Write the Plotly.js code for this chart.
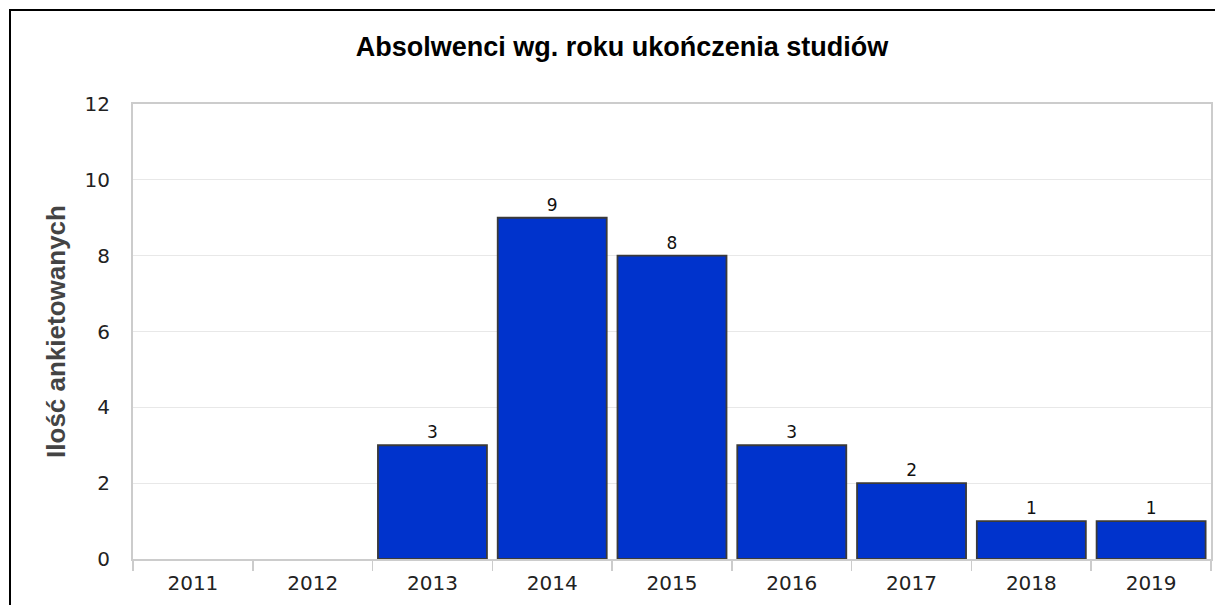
<!DOCTYPE html>
<html>
<head>
<meta charset="utf-8">
<script src="https://cdn.plot.ly/plotly-3.0.1.min.js"></script>
<style>
  html, body { margin: 0; padding: 0; background: #fff; }
  #chart { position: absolute; left: 0; top: 0; width: 1215px; height: 605px; }
  #frame { position: absolute; left: 9px; top: 9px; width: 1215px; height: 605px;
           border-left: 2px solid #000; border-top: 2px solid #000; pointer-events: none; }
</style>
</head>
<body>
<div id="chart"></div>
<div id="frame"></div>
<script>
const years = ['2011', '2012', '2013', '2014', '2015', '2016', '2017', '2018', '2019'];
const counts = [0, 0, 3, 9, 8, 3, 2, 1, 1];
const titleText = 'Absolwenci wg. roku ukończenia studiów';
const yTitleText = 'Ilość ankietowanych';

const trace = {
  type: 'bar',
  x: years,
  y: counts,
  text: counts.map(v => v > 0 ? String(v) : ''),
  textposition: 'outside',
  cliponaxis: false,
  textfont: { family: 'DejaVu Sans, sans-serif', size: 17, color: '#111' },
  marker: {
    color: '#0033cc',
    line: { color: '#3a3a3a', width: counts.map(v => v > 0 ? 1.8 : 0) }
  },
  hoverinfo: 'x+y'
};

const layout = {
  width: 1215,
  height: 605,
  margin: { l: 133, r: 4, t: 104, b: 46 },
  paper_bgcolor: 'rgba(0,0,0,0)',
  plot_bgcolor: '#fff',
  bargap: 0.09,
  showlegend: false,
  title: {
    text: '<b>' + titleText + '</b>',
    x: 622 / 1215, xref: 'container', xanchor: 'center',
    y: 1 - 47 / 605, yref: 'container', yanchor: 'middle',
    font: { family: 'Liberation Sans, Arial, sans-serif', size: 27, color: '#000' }
  },
  xaxis: {
    type: 'category',
    tickson: 'boundaries',
    ticks: 'outside',
    ticklen: 10,
    tickwidth: 1.5,
    tickcolor: '#ccc',
    ticklabelstandoff: 5,
    showline: true,
    linecolor: '#ccc',
    linewidth: 2,
    mirror: true,
    showgrid: false,
    tickfont: { family: 'DejaVu Sans, sans-serif', size: 20, color: '#222' },
    fixedrange: true
  },
  yaxis: {
    range: [0, 12],
    dtick: 2,
    tick0: 0,
    showline: true,
    linecolor: '#ccc',
    linewidth: 2,
    mirror: true,
    showgrid: true,
    gridcolor: '#e8e8e8',
    gridwidth: 1,
    zeroline: false,
    ticks: '',
    ticklabelstandoff: 17,
    tickfont: { family: 'DejaVu Sans, sans-serif', size: 20, color: '#222' },
    title: {
      text: '<b>' + yTitleText + '</b>',
      font: { family: 'Liberation Sans, Arial, sans-serif', size: 26, color: '#444' },
      standoff: 11
    },
    fixedrange: true
  }
};

Plotly.newPlot('chart', [trace], layout, { displayModeBar: false, staticPlot: true });
</script>
</body>
</html>
